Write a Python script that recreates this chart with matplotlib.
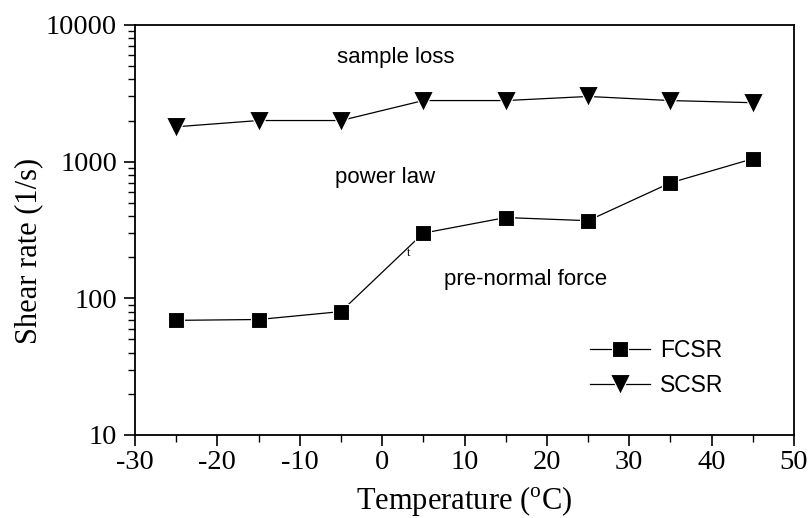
import matplotlib
matplotlib.use("Agg")
import matplotlib.pyplot as plt
from matplotlib.ticker import FixedLocator, LogLocator, NullFormatter, FixedFormatter

plt.rcParams['mathtext.fontset'] = 'custom'
plt.rcParams['mathtext.rm'] = 'Liberation Serif'
plt.rcParams['axes.unicode_minus'] = False

temperature = [-25, -15, -5, 5, 15, 25, 35, 45]
fcsr = [69, 70, 80, 300, 390, 370, 700, 1050]
scsr = [1800, 2000, 2000, 2800, 2800, 3000, 2800, 2700]

x_ticks = [-30, -20, -10, 0, 10, 20, 30, 40, 50]
y_ticks = [10, 100, 1000, 10000]
y_tick_labels = ['10', '100', '1000', '10000']

fig = plt.figure(figsize=(8.09, 5.18), dpi=100)
ax = fig.add_axes([135/809, 1-435/518, (794-135)/809, (435-25)/518])

ax.plot(temperature, fcsr, color='black', lw=0.9, marker='s', ms=11.5,
        markerfacecolor='black', markeredgecolor='white', markeredgewidth=0.8, label='FCSR')
ax.plot(temperature, scsr, color='black', lw=0.9, marker='v', ms=14,
        markerfacecolor='black', markeredgecolor='white', markeredgewidth=0.8, label='SCSR')

ax.set_yscale('log')
ax.set_xlim(-30, 50)
ax.set_ylim(10, 10000)
ax.xaxis.set_major_locator(FixedLocator(x_ticks))
ax.xaxis.set_minor_locator(FixedLocator([-25, -15, -5, 5, 15, 25, 35, 45]))
ax.yaxis.set_major_locator(FixedLocator(y_ticks))
ax.yaxis.set_major_formatter(FixedFormatter(y_tick_labels))
ax.yaxis.set_minor_locator(LogLocator(base=10, subs=range(2, 10)))
ax.yaxis.set_minor_formatter(NullFormatter())

for lab in ax.get_xticklabels() + ax.get_yticklabels():
    lab.set_fontfamily('Liberation Serif')
    lab.set_fontsize(20.5)

ax.tick_params(axis='both', which='major', direction='out', length=8, width=1.2)
ax.tick_params(axis='y', which='major', pad=5)
ax.tick_params(axis='x', which='major', pad=3)
ax.tick_params(axis='both', which='minor', direction='out', length=5, width=1.0)
ax.tick_params(top=False, right=False)
for s in ax.spines.values():
    s.set_linewidth(1.3)

ax.set_xlabel('Temperature ($^\\mathrm{o}$C)', fontfamily='Liberation Serif', fontsize=22, labelpad=6)
ylab = ax.set_ylabel('Shear rate (1/s)', fontfamily='Liberation Serif', fontsize=22)
ylab.set_va('center')
ax.yaxis.set_label_coords(29/809, 1-251/518, transform=fig.transFigure)

ax.text(337/809, 1-58/518, 'sample loss', transform=fig.transFigure, fontfamily='Liberation Sans',
        fontsize=16, va='center', ha='left')
ax.text(335/809, 1-178/518, 'power law', transform=fig.transFigure, fontfamily='Liberation Sans',
        fontsize=16, va='center', ha='left')
ax.text(444/809, 1-280/518, 'pre-normal force', transform=fig.transFigure, fontfamily='Liberation Sans',
        fontsize=16, va='center', ha='left')
ax.text(407/809, 1-253/518, 't', transform=fig.transFigure, fontfamily='Liberation Serif',
        fontsize=9, va='center', ha='left')

leg = ax.legend(loc='center left', bbox_to_anchor=((590-135)/659, (435-368)/410), frameon=False,
                prop={'family': 'Liberation Sans', 'size': 16.5}, handlelength=2.6,
                handletextpad=0.45, labelspacing=0.55, borderaxespad=0, borderpad=0)

fig.savefig('out.png', dpi=100)
